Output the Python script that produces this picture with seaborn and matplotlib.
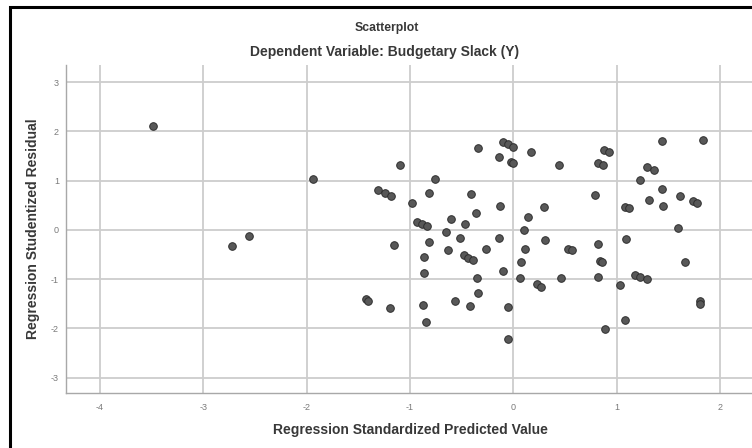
import matplotlib
matplotlib.use("Agg")
import matplotlib.pyplot as plt
import seaborn as sns
import pandas as pd
from matplotlib.patches import Rectangle

# Data
predicted = [-3.49, -2.72, -2.56, -1.94, -1.43, -1.41, -1.31, -1.24, -1.18, -1.19,
             -1.16, -1.10, -0.98, -0.93, -0.88, -0.84, -0.87, -0.86, -0.86, -0.85,
             -0.82, -0.82, -0.757, -0.65, -0.63, -0.60, -0.56, -0.52, -0.48, -0.44,
             -0.39, -0.47, -0.42, -0.41, -0.36, -0.35, -0.34, -0.34, -0.26, -0.14,
             -0.135, -0.13, -0.10, -0.097, -0.048, -0.006, -0.025, 0.0, -0.05, -0.05,
             0.06, 0.07, 0.10, 0.11, 0.14, 0.17, 0.23, 0.27, 0.30, 0.31,
             0.44, 0.46, 0.53, 0.565, 0.79, 0.82, 0.87, 0.88, 0.93, 0.82,
             0.84, 0.855, 0.82, 0.89, 1.035, 1.08, 1.12, 1.09, 1.08, 1.18,
             1.225, 1.29, 1.23, 1.29, 1.36, 1.31, 1.435, 1.435, 1.45, 1.59,
             1.61, 1.66, 1.74, 1.78, 1.805, 1.81, 1.84]
residual = [2.12, -0.32, -0.12, 1.03, -1.41, -1.44, 0.81, 0.76, 0.70, -1.58,
            -0.30, 1.32, 0.54, 0.17, 0.12, 0.08, -1.53, -0.54, -0.88, -1.86,
            0.76, -0.25, 1.03, -0.05, -0.41, 0.22, -1.45, -0.17, -0.51, -0.56,
            -0.60, 0.12, -1.54, 0.73, 0.35, -0.97, -1.28, 1.67, -0.39, -0.16,
            1.49, 0.49, -0.83, 1.78, 1.74, 1.69, 1.39, 1.37, -1.56, -2.21,
            -0.97, -0.66, -0.01, -0.39, 0.27, 1.59, -1.10, -1.15, 0.46, -0.20,
            1.32, -0.97, -0.39, -0.41, 0.71, 1.37, 1.32, 1.62, 1.58, -0.29,
            -0.62, -0.64, -0.95, -2.01, -1.12, 0.47, 0.45, -0.18, -1.82, -0.91,
            -0.95, -1.00, 1.01, 1.28, 1.22, 0.61, 1.81, 0.83, 0.49, 0.05,
            0.70, -0.66, 0.59, 0.55, -1.45, -1.50, 1.82]
x_ticks = [-4, -3, -2, -1, 0, 1, 2]
y_ticks = [-3, -2, -1, 0, 1, 2, 3]

title = "Scatterplot"
subtitle = "Dependent Variable: Budgetary Slack (Y)"
x_label = "Regression Standardized Predicted Value"
y_label = "Regression Studentized Residual"

df = pd.DataFrame({"pred": predicted, "resid": residual})

sns.set_theme(style="white")
plt.rcParams["font.family"] = ["Liberation Sans", "DejaVu Sans"]

fig = plt.figure(figsize=(7.52, 4.48), dpi=100)
ax = fig.add_axes([66 / 752, 1 - 393 / 448, (752 - 66) / 752, (393 - 65) / 448])

ax.set_axisbelow(True)
for t in x_ticks:
    ax.axvline(t, color="#cdcdcd", lw=1.3, zorder=0)
for t in y_ticks:
    ax.axhline(t, color="#cdcdcd", lw=1.3, zorder=0)

sns.scatterplot(data=df, x="pred", y="resid", ax=ax, s=30, color="#585858",
                edgecolor="#2e2e2e", linewidth=0.7, zorder=3, legend=False)

ax.set_xlim(-4.33, 2.31)
ax.set_ylim(-3.31, 3.35)
ax.set_xticks(x_ticks)
ax.set_yticks(y_ticks)
ax.set_xticklabels([str(t) for t in x_ticks])
ax.set_yticklabels([str(t) for t in y_ticks])
ax.tick_params(axis="both", length=0, labelsize=6.5, labelcolor="#7a7a7a")
ax.tick_params(axis="x", pad=7)
ax.tick_params(axis="y", pad=5)

for side in ["top", "right"]:
    ax.spines[side].set_visible(False)
for side in ["left", "bottom"]:
    ax.spines[side].set_color("#a8a8a8")
    ax.spines[side].set_linewidth(1.0)

ax.set_xlabel("")
ax.set_ylabel("")
fig.text(410 / 752, 1 - 430 / 448, x_label, ha="center", va="center",
         fontsize=10, fontweight="bold", color="#383838")
fig.text(33 / 752, 1 - 229 / 448, y_label, ha="center", va="center",
         rotation=90, fontsize=10, fontweight="bold", color="#383838")
fig.text(387 / 752, 1 - 28 / 448, title, ha="center", va="center",
         fontsize=8.8, fontweight="bold", color="#383838")
fig.text(385 / 752, 1 - 52 / 448, subtitle, ha="center", va="center",
         fontsize=10, fontweight="bold", color="#383838")

# figure frame (black border, continues beyond right/bottom edge)
fig.patches.append(Rectangle((10 / 752, -0.05), 1.2, 1 - 7 / 448 + 0.05,
                             transform=fig.transFigure, fill=False,
                             edgecolor="black", linewidth=2.2, zorder=10))

fig.savefig("out.png", dpi=100)
